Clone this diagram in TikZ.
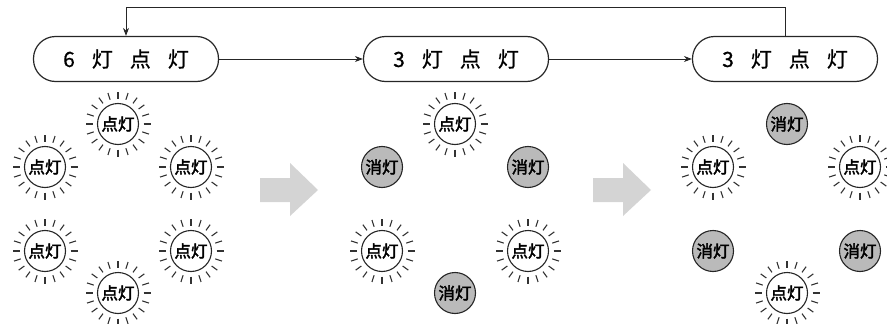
\documentclass[tikz,border=0pt]{standalone}
\usepackage{fontspec}
\usepackage{tikz}
\usetikzlibrary{arrows.meta}
\newfontfamily\cjk[FakeBold=0.8]{Noto Sans CJK SC}
\newfontfamily\cjkb[FakeBold=2.5]{Noto Sans CJK SC}
\newcommand{\gp}{\hspace{17pt}}

\begin{document}
\begin{tikzpicture}[x=1pt,y=-1pt,
    stage/.style={draw=black!85,line width=1.2pt,rounded corners=22pt,minimum width=185pt,minimum height=45pt,font=\cjk\fontsize{21}{21}\selectfont},
    lamp/.style={circle,draw=black!85,line width=1.1pt,minimum size=41pt,inner sep=0pt,font=\cjkb\fontsize{16.5}{16.5}\selectfont},
    lit/.style={lamp,fill=white},
    off/.style={lamp,fill=black!27},
    ray/.style={black!80,line width=1.1pt},
    flow/.style={-{Stealth[length=8pt,width=6pt]},black!85,line width=0.9pt}]
  \useasboundingbox (0,0) rectangle (887,324);

  % stages
  \node[stage] (s1) at (126,59) {6\gp 灯\gp 点\gp 灯};
  \node[stage] (s2) at (456,59) {3\gp 灯\gp 点\gp 灯};
  \node[stage] (s3) at (785,59) {3\gp 灯\gp 点\gp 灯};
  \draw[flow] (s1) -- (s2);
  \draw[flow] (s2) -- (s3);
  \draw[flow] (s3.north) -- ++(0,-28) -| (s1.north);

  % lamps that are on
  \foreach \n/\x/\y in {a1/118/124,a2/45/167,a3/191/167,a4/45/251,a5/191/251,a6/118/293,
                        b1/455/124,b4/382/251,b5/528/251,
                        c2/713/167,c3/860/167,c6/787/293} {
    \node[lit] (\n) at (\x,\y) {点灯};
    \foreach \a in {0,18,...,342}
      \draw[ray] (\n.center) ++(\a:25.5pt) -- ++(\a:7pt);
  }
  % lamps that are off
  \foreach \n/\x/\y in {b2/382/167,b3/528/167,b6/455/293,
                        c1/787/124,c4/713/251,c5/860/251}
    \node[off] (\n) at (\x,\y) {消灯};

  % gray arrows
  \foreach \s in {0,333}
    \fill[black!17] (260+\s,178) -- (290+\s,178) -- (290+\s,163) -- (318+\s,190)
      -- (290+\s,216) -- (290+\s,202) -- (260+\s,202) -- cycle;
\end{tikzpicture}
\end{document}
